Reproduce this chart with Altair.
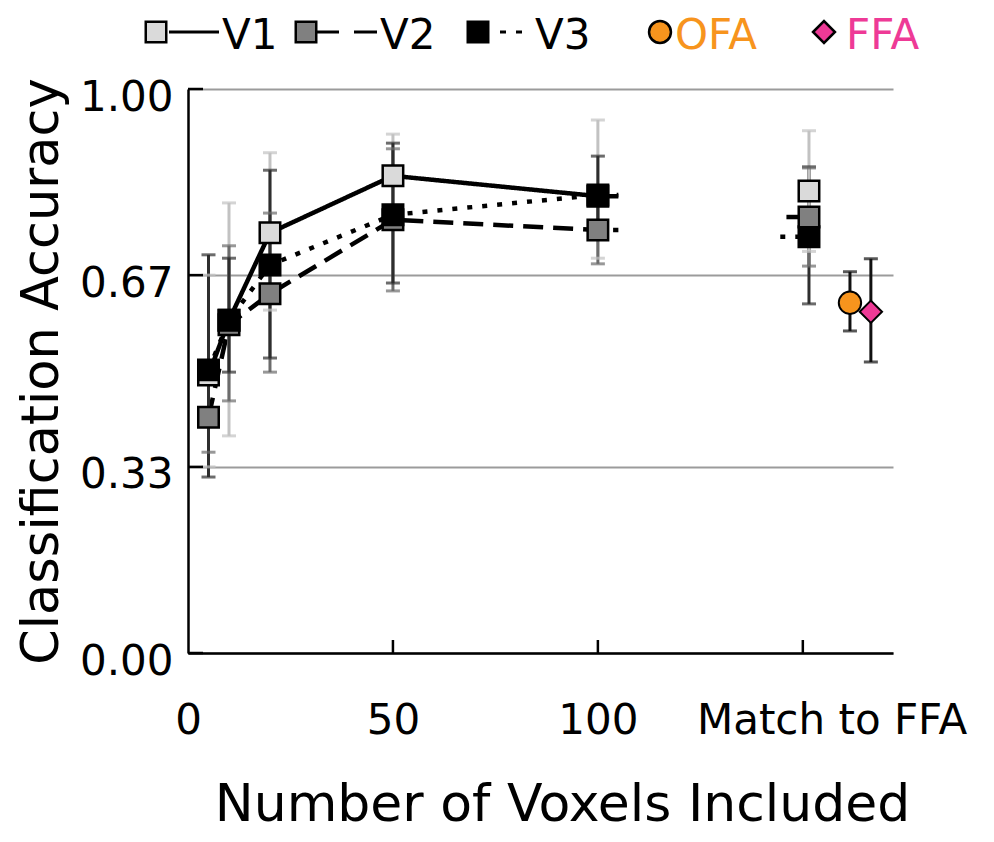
import altair as alt
import pandas as pd

# ---------------- data ----------------
SERIES = ["V1", "V2", "V3"]
VOXELS = [5, 10, 20, 50, 100]

V1_MEAN = [0.493, 0.590, 0.745, 0.846, 0.810]
V1_LO = [0.330, 0.385, 0.608, 0.772, 0.700]
V1_HI = [0.670, 0.798, 0.887, 0.920, 0.945]

V2_MEAN = [0.418, 0.582, 0.637, 0.768, 0.750]
V2_LO = [0.356, 0.447, 0.498, 0.642, 0.690]
V2_HI = [0.480, 0.722, 0.780, 0.894, 0.810]

V3_MEAN = [0.502, 0.590, 0.688, 0.777, 0.812]
V3_LO = [0.312, 0.498, 0.523, 0.656, 0.743]
V3_HI = [0.706, 0.700, 0.856, 0.904, 0.881]

# "Match to FFA" condition
MATCH_X = 151.5
MATCH_MEAN = [0.819, 0.773, 0.738]
MATCH_LO = [0.712, 0.686, 0.619]
MATCH_HI = [0.926, 0.860, 0.862]

# short line stubs (broken axis look)
STUB_END = 105
MATCH_STUB_START = {"V2": 146.0, "V3": 144.5}

ROIS = ["OFA", "FFA"]
ROI_X = [161.5, 166.6]
ROI_MEAN = [0.621, 0.605]
ROI_LO = [0.571, 0.516]
ROI_HI = [0.676, 0.699]

X_TICKS = [50, 100, 150]
Y_TICKS = [0, 0.33, 0.67, 1.0]
X_LABEL_VALUES = [0, 50, 100, 157]
MATCH_LABEL = "Match to FFA"

# ---------------- tables ----------------
MEANS = [V1_MEAN, V2_MEAN, V3_MEAN]
LOS = [V1_LO, V2_LO, V3_LO]
HIS = [V1_HI, V2_HI, V3_HI]

rows = []
for s, m, lo, hi in zip(SERIES, MEANS, LOS, HIS):
    for x, a, b, c in zip(VOXELS, m, lo, hi):
        rows.append(dict(series=s, x=x, y=a, lo=b, hi=c))
for s, a, b, c in reversed(list(zip(SERIES, MATCH_MEAN, MATCH_LO, MATCH_HI))):
    rows.append(dict(series=s, x=MATCH_X, y=a, lo=b, hi=c))
pts = pd.DataFrame(rows)

roi = pd.DataFrame(dict(series=ROIS, x=ROI_X, y=ROI_MEAN, lo=ROI_LO, hi=ROI_HI))
err = pd.concat([pts, roi], ignore_index=True)

lrows = []
for s, m in zip(SERIES, MEANS):
    for x, a in zip(VOXELS, m):
        lrows.append(dict(series=s, grp=s + "a", x=x, y=a))
    lrows.append(dict(series=s, grp=s + "a", x=STUB_END, y=m[-1]))
for s, a in zip(SERIES, MATCH_MEAN):
    if s in MATCH_STUB_START:
        lrows.append(dict(series=s, grp=s + "b", x=MATCH_STUB_START[s], y=a))
        lrows.append(dict(series=s, grp=s + "b", x=MATCH_X, y=a))
lines = pd.DataFrame(lrows)

ytick_df = pd.DataFrame(dict(y=Y_TICKS))
xtick_df = pd.DataFrame(dict(x=X_TICKS))

# ---------------- scales / axes ----------------
FONT = "DejaVu Sans"
W, H = 705, 564
x_scale = alt.Scale(domain=[0, 172], nice=False, zero=False)
y_scale = alt.Scale(domain=[0, 1], nice=False, zero=False)

x_axis = alt.Axis(
    values=X_LABEL_VALUES,
    labelExpr=f"datum.value == {X_LABEL_VALUES[-1]} ? '{MATCH_LABEL}' : datum.label",
    format="d", ticks=False, grid=False,
    domainColor="black", domainWidth=2.5,
    labelFont=FONT, labelFontSize=42, labelColor="black",
    labelBaseline="alphabetic", labelPadding=80,
    labelFlush=False, labelOverlap=False, labelLimit=0,
    title="Number of Voxels Included", titleFont=FONT, titleFontSize=52,
    titleFontWeight="normal", titleColor="black", titleLimit=0,
    titleX=374, titleY=167, titleBaseline="alphabetic", titleAlign="center",
)
y_axis = alt.Axis(
    values=Y_TICKS, format=".2f", ticks=False,
    grid=True, gridColor="#9b9b9b", gridWidth=2,
    domainColor="black", domainWidth=2.5,
    labelFont=FONT, labelFontSize=42, labelColor="black", labelLimit=0,
    labelPadding=15, labelOffset=8,
    title="Classification Accuracy", titleFont=FONT, titleFontSize=51,
    titleFontWeight="normal", titleColor="black", titleLimit=0,
    titleX=-131, titleY=282, titleBaseline="alphabetic", titleAlign="center",
)

def X(f):
    return alt.X(f, type="quantitative", scale=x_scale, axis=x_axis)

def Y(f):
    return alt.Y(f, type="quantitative", scale=y_scale, axis=y_axis)

ALL = SERIES + ROIS
err_color = alt.Color("series:N", legend=None, scale=alt.Scale(
    domain=ALL, range=["#c2c2c2", "#6c6c6c", "#2e2e2e", "#111111", "#111111"]))
fill_col = alt.Fill("series:N", legend=None, scale=alt.Scale(
    domain=ALL, range=["#dadada", "#808080", "#000000", "#f7941d", "#ee3a96"]))
shape_col = alt.Shape("series:N", legend=None, scale=alt.Scale(
    domain=ALL, range=["square", "square", "square", "circle", "diamond"]))

# ---------------- layers ----------------
yticks = alt.Chart(ytick_df).mark_rule(color="black", strokeWidth=2.5).encode(
    y=Y("y"), x=alt.value(0), x2=alt.value(15))
xticks = alt.Chart(xtick_df).mark_rule(color="black", strokeWidth=2.5).encode(
    x=X("x"), y=alt.value(H), y2=alt.value(H - 13))

line_layer = alt.Chart(lines).mark_line(color="black", strokeWidth=4.5).encode(
    x=X("x"), y=Y("y"), detail="grp:N",
    strokeDash=alt.StrokeDash("series:N", legend=None, scale=alt.Scale(
        domain=SERIES, range=[[1, 0], [20, 10], [5, 10]])),
)

bars = alt.Chart(err).mark_rule(strokeWidth=3).encode(
    x=X("x"), y=Y("lo"), y2="hi", color=err_color)
cap_lo = alt.Chart(err).mark_tick(orient="horizontal", thickness=3, size=14).encode(
    x=X("x"), y=Y("lo"), color=err_color)
cap_hi = alt.Chart(err).mark_tick(orient="horizontal", thickness=3, size=14).encode(
    x=X("x"), y=Y("hi"), color=err_color)

markers = alt.Chart(pts).mark_point(
    filled=True, stroke="black", strokeWidth=2.5, opacity=1, size=420
).encode(x=X("x"), y=Y("y"), fill=fill_col, shape=shape_col)

roi_markers = alt.Chart(roi).mark_point(
    filled=True, stroke="black", strokeWidth=2, opacity=1, size=500
).encode(x=X("x"), y=Y("y"), fill=fill_col, shape=shape_col)

# ---------------- custom legend (top) ----------------
one = pd.DataFrame({"k": [0]})
LY = -57
TY = -40
LFS = 42

def leg_point(px, shape, fill, size):
    return alt.Chart(one).mark_point(
        shape=shape, filled=True, fill=fill, stroke="black", strokeWidth=2.5,
        opacity=1, size=size).encode(x=alt.value(px), y=alt.value(LY))

def leg_line(x1, x2, dash):
    return alt.Chart(one).mark_rule(color="black", strokeWidth=3, strokeDash=dash).encode(
        x=alt.value(x1), x2=alt.value(x2), y=alt.value(LY))

def leg_text(px, txt, color):
    return alt.Chart(one).mark_text(
        text=txt, align="left", baseline="alphabetic", font=FONT,
        fontSize=LFS, color=color).encode(x=alt.value(px), y=alt.value(TY))

legend = [
    leg_line(-19, 31, [1, 0]), leg_point(-32, "square", "#dadada", 420), leg_text(34, "V1", "black"),
    leg_line(128, 189, [23, 15]), leg_point(118, "square", "#808080", 420), leg_text(192, "V2", "black"),
    leg_line(312, 344, [6, 10]), leg_point(290, "square", "#000000", 420), leg_text(347, "V3", "black"),
    leg_point(472, "circle", "#f7941d", 480), leg_text(487, "OFA", "#f7941d"),
    leg_point(636, "diamond", "#ee3a96", 480), leg_text(658, "FFA", "#ee3a96"),
]

chart = alt.layer(
    line_layer, bars, cap_lo, cap_hi, markers, roi_markers, yticks, xticks, *legend
).resolve_scale(
    color="independent", fill="independent", shape="independent", strokeDash="independent"
).properties(
    width=W, height=H,
    autosize=alt.AutoSizeParams(type="none"),
    padding={"left": 180, "top": 81, "right": 93, "bottom": 181},
).configure(font=FONT).configure_view(stroke=None)

chart.save("out.html", embed_options={"renderer": "svg", "actions": False})
